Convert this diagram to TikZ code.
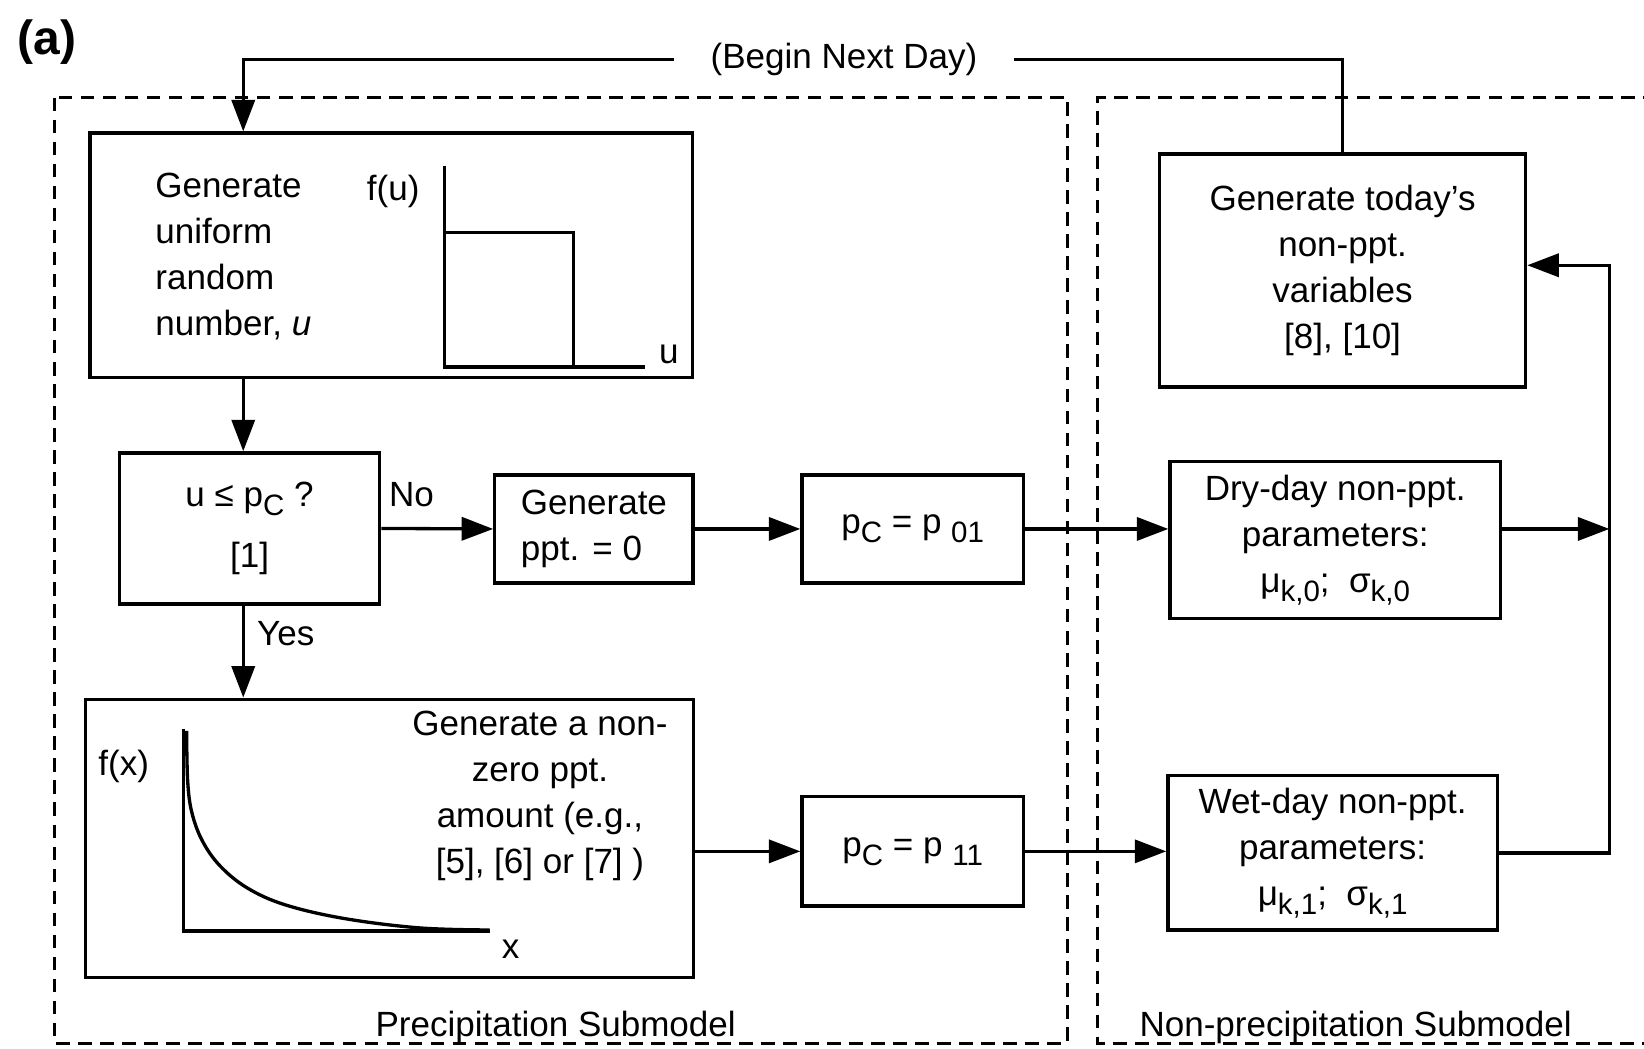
\documentclass[tikz,border=0pt]{standalone}
\usepackage{fontspec}
\setmainfont{Liberation Sans}
\usetikzlibrary{positioning, calc, arrows, arrows.meta}

\newcommand{\lowsub}[1]{\raisebox{-0.5ex}{\footnotesize #1}}

\begin{document}
\begin{tikzpicture}[x=0.01cm, y=-0.01cm, >={Triangle[length=3mm,width=2.2mm]}, line width=0.9pt,
  font=\fontsize{9.5}{12.5}\selectfont,
  box/.style={draw, rectangle, align=center, inner sep=0pt},
  submodel/.style={draw, dash pattern=on 1.3mm off 0.8mm, line width=0.7pt},
  ]
  \useasboundingbox[fill=white] (0,0) rectangle (1568,1000);

  % submodel frames
  \draw[submodel] (52,93) rectangle (1018,995);
  \draw[submodel] (1580,93) -- (1047,93) -- (1047,995) -- (1580,995);
  \node (preciplabel) at (530,980) {Precipitation Submodel};
  \node (nonpreciplabel) at (1293,980) {Non-precipitation Submodel};
  \node[font=\bfseries\fontsize{13}{15}\selectfont] (panel) at (45,40) {(a)};

  % precipitation side
  \node[box, minimum width=5.74cm, minimum height=2.33cm] (gen) at (373,243.5) {};
  \node[align=left, anchor=west] (gentext) at (135,244.5) {Generate\\uniform\\random\\number, \textit{u}};
  \draw (424,158) -- (424,350) -- (615,350);
  \draw (424,222) -- (547,222) -- (547,350);
  \node (fu) at (375,183) {f(u)};
  \node (ulab) at (638,338) {u};

  \node[box, minimum width=2.48cm, minimum height=1.44cm] (test) at (238,504) {u ≤ p\lowsub{C} ?\\[4pt][1]};
  \node[box, minimum width=1.89cm, minimum height=1.03cm, align=left] (zero) at (566.5,504.5) {Generate\\ppt. = 0};
  \node[box, minimum width=2.11cm, minimum height=1.03cm] (pdry) at (870.5,504.5) {p\lowsub{C} = p \lowsub{01}};

  \node[box, minimum width=5.79cm, minimum height=2.65cm] (amount) at (371.5,799.5) {};
  \node[align=center] (amounttext) at (515,759) {Generate a non-\\zero ppt.\\amount (e.g.,\\{}[5], [6] or [7] )};
  \draw (175,695) -- (175,888) -- (467,888);
  \draw plot[smooth, tension=0.6] coordinates {(178,697) (179,745) (183,775) (193,802) (210,826) (236,847) (272,863) (328,876) (400,885) (467,887)};
  \node (fx) at (118,731) {f(x)};
  \node (xlab) at (487,905) {x};

  \node[box, minimum width=2.11cm, minimum height=1.04cm] (pwet) at (870.5,812) {p\lowsub{C} = p \lowsub{11}};

  % non-precipitation side
  \node[box, minimum width=3.49cm, minimum height=2.22cm] (today) at (1280.5,258) {Generate today's\\non-ppt.\\variables\\{}[8], [10]};
  \node[box, minimum width=3.15cm, minimum height=1.50cm] (dry) at (1273.5,515) {Dry-day non-ppt.\\parameters:\\μ\lowsub{k,0};\ \ σ\lowsub{k,0}};
  \node[box, minimum width=3.14cm, minimum height=1.47cm] (wet) at (1271,813.5) {Wet-day non-ppt.\\parameters:\\μ\lowsub{k,1};\ \ σ\lowsub{k,1}};

  \coordinate (rail) at (1535,253);
  \coordinate (loopleft) at (232,57);

  \path[->]
    (gen.south -| loopleft) edge (test.north -| loopleft)
    (test.east) edge node[pos=.27, above=2pt] {No} (zero.west)
    (test.south -| loopleft) edge node[pos=.3, right] {Yes} (amount.north -| loopleft)
    (zero.east) edge (pdry.west)
    (pdry.east) edge (pdry.east -| dry.west)
    (pdry.east -| dry.east) edge (pdry.east -| rail)
    (pwet.west -| amount.east) edge (pwet.west)
    (pwet.east) edge (pwet.east -| wet.west);
  \draw[->] (wet.east) -| (rail) -- (today.east |- rail);
  \draw[->] (today.north) |- (loopleft) -- (loopleft |- gen.north);
  \node[fill=white, inner xsep=0.35cm] (nextday) at (805,57) {(Begin Next Day)};
\end{tikzpicture}
\end{document}
